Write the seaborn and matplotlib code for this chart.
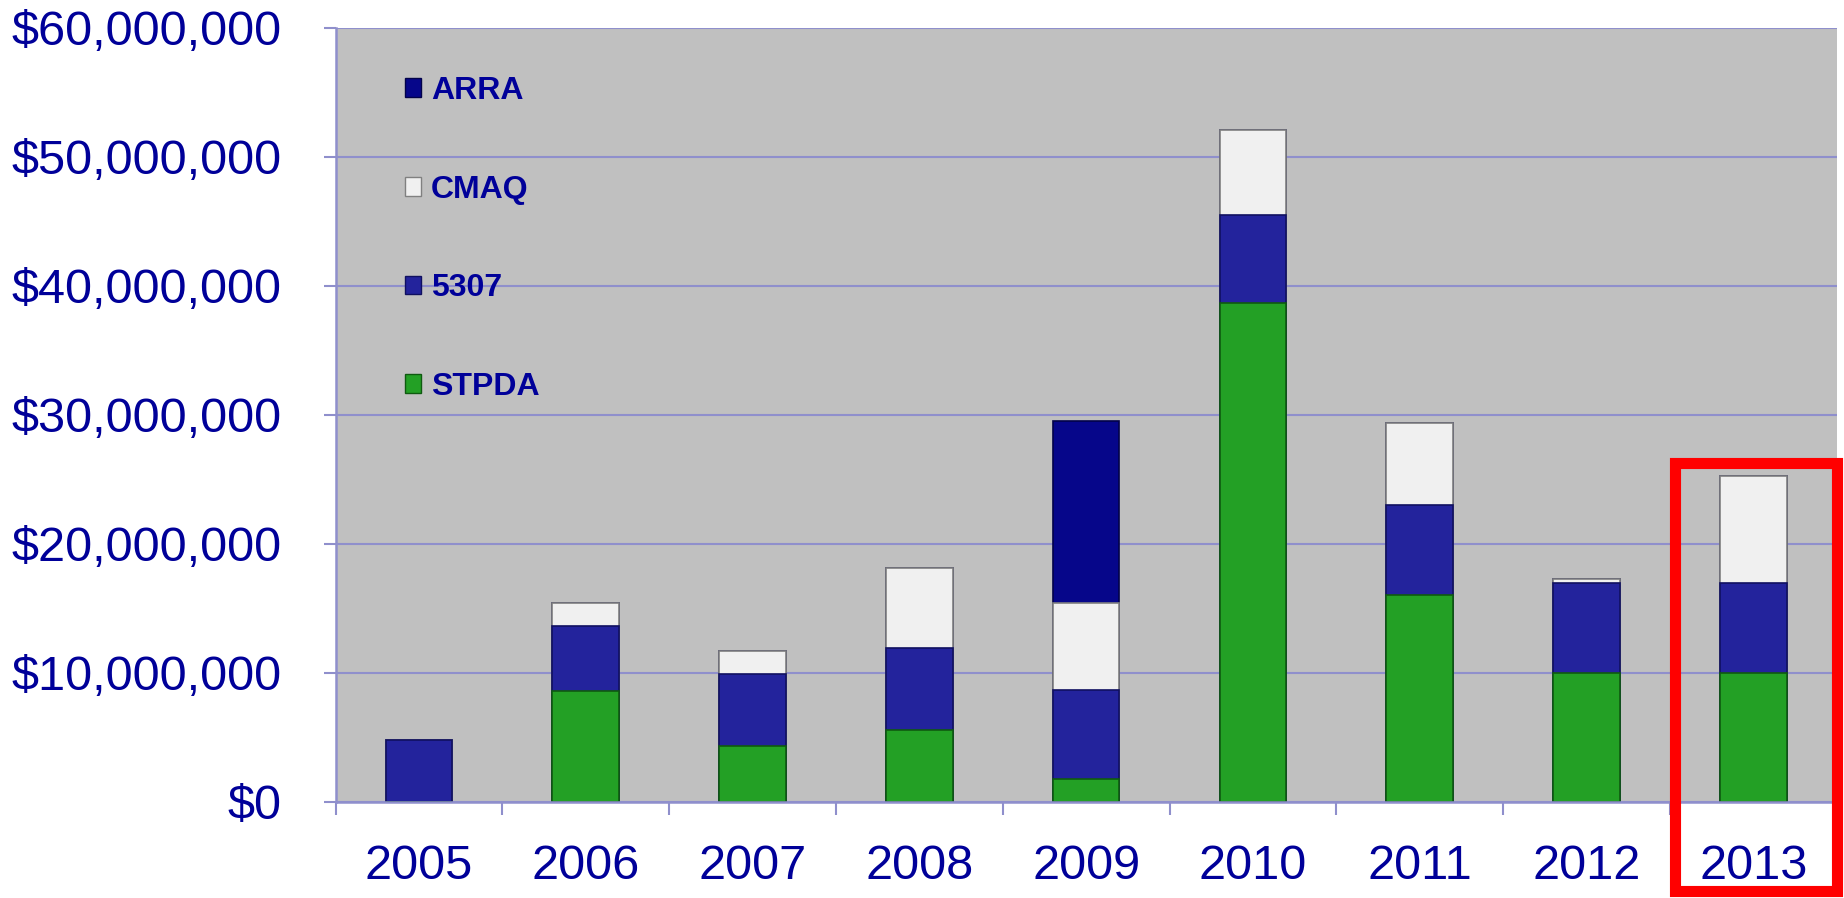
import matplotlib
matplotlib.use("Agg")
import matplotlib.pyplot as plt
from matplotlib.patches import Patch, Rectangle
from matplotlib.ticker import FuncFormatter, FixedLocator
import numpy as np
import pandas as pd
import seaborn as sns

years = ["2005", "2006", "2007", "2008", "2009", "2010", "2011", "2012", "2013"]
stpda = [0.0, 8.6, 4.3, 5.6, 1.8, 38.7, 16.0, 10.0, 10.0]
s5307 = [4.8, 5.0, 5.6, 6.3, 6.9, 6.8, 7.0, 7.0, 7.0]
cmaq = [0.0, 1.8, 1.8, 6.2, 6.7, 6.6, 6.4, 0.3, 8.3]
arra = [0.0, 0.0, 0.0, 0.0, 14.1, 0.0, 0.0, 0.0, 0.0]

series_names = ["STPDA", "5307", "CMAQ", "ARRA"]
colors = {"STPDA": "#23a025", "5307": "#23239c", "CMAQ": "#f0f0f0", "ARRA": "#06068a"}
edges = {"STPDA": "#0f5a10", "5307": "#101060", "CMAQ": "#808080", "ARRA": "#02024a"}
text_color = "#000099"
grid_color = "#8f8fcc"

df = pd.DataFrame({"year": years, "STPDA": stpda, "5307": s5307, "CMAQ": cmaq, "ARRA": arra})
df[series_names] = df[series_names] * 1e6
cum = df[series_names].cumsum(axis=1)

sns.set_style("white")
plt.rcParams["font.family"] = ["Liberation Sans", "DejaVu Sans"]

fig = plt.figure(figsize=(18.44, 8.98), dpi=100)
ax = fig.add_axes([0.182, 0.107, 0.814, 0.862])
ax.set_facecolor("#c0c0c0")
ax.set_axisbelow(True)

# draw cumulative totals from the top layer down so lower layers cover upper ones
for name in reversed(series_names):
    tmp = pd.DataFrame({"year": df["year"], "value": cum[name]})
    sns.barplot(data=tmp, x="year", y="value", color=colors[name], width=0.4,
                edgecolor=edges[name], linewidth=1.2, saturation=1, ax=ax)

ax.set_ylim(0, 60e6)
ax.set_xlim(-0.5, len(years) - 0.5)
ax.set_yticks(np.arange(0, 60e6 + 1, 10e6))
ax.yaxis.set_major_formatter(FuncFormatter(lambda v, p: "${:,.0f}".format(v)))
ax.grid(axis="y", color=grid_color, linewidth=1.5)
ax.grid(axis="x", visible=False)
ax.set_xlabel("")
ax.set_ylabel("")

for side in ["top", "right"]:
    ax.spines[side].set_visible(False)
for side in ["left", "bottom"]:
    ax.spines[side].set_color(grid_color)
    ax.spines[side].set_linewidth(1.8)

ax.tick_params(axis="y", which="major", length=9, width=1.5, color=grid_color,
               pad=30, labelsize=35, labelcolor=text_color, left=True)
ax.tick_params(axis="x", which="major", length=0, pad=30, labelsize=35, labelcolor=text_color)
ax.xaxis.set_minor_locator(FixedLocator(np.arange(-0.5, len(years), 1.0)))
ax.tick_params(axis="x", which="minor", length=9, width=1.5, color=grid_color, bottom=True)

handles = [Patch(facecolor=colors[n], edgecolor=edges[n], linewidth=1) for n in reversed(series_names)]
leg = ax.legend(handles, list(reversed(series_names)), loc="upper left",
                bbox_to_anchor=(0.027, 0.975), frameon=False,
                prop={"weight": "bold", "size": 23}, labelcolor=text_color,
                handlelength=0.52, handleheight=0.52, handletextpad=0.3, labelspacing=2.15)

# red highlight box around 2013
fig.patches.append(Rectangle((0.9084, 0.0078), 0.0879, 0.4766, transform=fig.transFigure,
                             fill=False, edgecolor="#ff0000", linewidth=8, zorder=10))

fig.savefig("out.png", dpi=100)
